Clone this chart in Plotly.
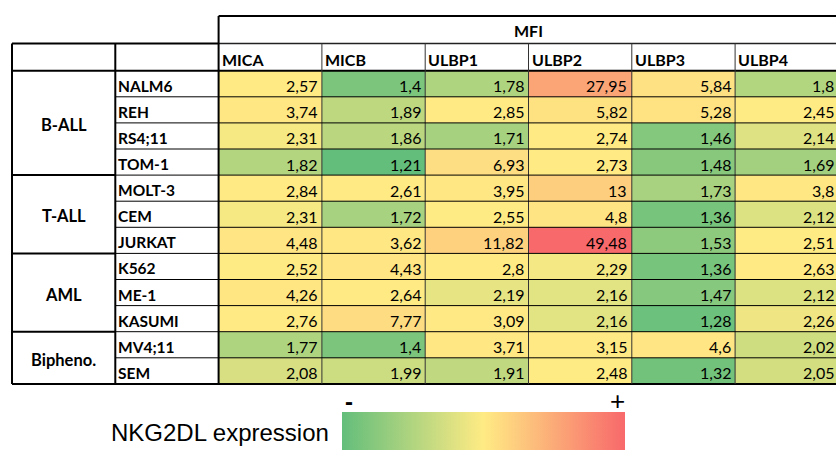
import numpy as np
import plotly.graph_objects as go

# ---------------- data ----------------
markers = ["MICA", "MICB", "ULBP1", "ULBP2", "ULBP3", "ULBP4"]
cell_lines = ["NALM6", "REH", "RS4;11", "TOM-1", "MOLT-3", "CEM", "JURKAT",
              "K562", "ME-1", "KASUMI", "MV4;11", "SEM"]
groups = ["B-ALL", "T-ALL", "AML", "Bipheno."]
group_sizes = [4, 3, 3, 2]

mica = [2.57, 3.74, 2.31, 1.82, 2.84, 2.31, 4.48, 2.52, 4.26, 2.76, 1.77, 2.08]
micb = [1.4, 1.89, 1.86, 1.21, 2.61, 1.72, 3.62, 4.43, 2.64, 7.77, 1.4, 1.99]
ulbp1 = [1.78, 2.85, 1.71, 6.93, 3.95, 2.55, 11.82, 2.8, 2.19, 3.09, 3.71, 1.91]
ulbp2 = [27.95, 5.82, 2.74, 2.73, 13, 4.8, 49.48, 2.29, 2.16, 2.16, 3.15, 2.48]
ulbp3 = [5.84, 5.28, 1.46, 1.48, 1.73, 1.36, 1.53, 1.36, 1.47, 1.28, 4.6, 1.32]
ulbp4 = [1.8, 2.45, 2.14, 1.69, 3.8, 2.12, 2.51, 2.63, 2.12, 2.26, 2.02, 2.05]

header_title = "MFI"
legend_title = "NKG2DL expression"

# ---------------- styling ----------------
W, H = 836, 452
GREEN, YELLOW, RED = "#63BE7B", "#FFEB84", "#F8696B"
FONT = "Lato"
COL_W, X0 = 103.3, 12.0      # px per column, left edge of table
ROW_H, Y0 = 26.1, 70.7       # px per row, top of first data row


def xd(px):
    return (px - X0) / COL_W - 0.5


def yd(px):
    return (px - Y0) / ROW_H - 0.5


cols = [mica, micb, ulbp1, ulbp2, ulbp3, ulbp4]
z = np.array(cols).T  # rows = cell lines, cols = markers
zmin, zmax = z.min(), z.max()
zmid = np.percentile(z, 50)
midpos = (zmid - zmin) / (zmax - zmin)
cscale = [[0, GREEN], [midpos, YELLOW], [1, RED]]

n_rows = len(cell_lines)
data_x = [j + 2 for j in range(len(markers))]
data_y = list(range(n_rows))

fig = go.Figure()
fig.add_trace(go.Heatmap(
    z=z, x=data_x, y=data_y, colorscale=cscale, zmin=zmin, zmax=zmax,
    showscale=False, hoverinfo="skip"))

# legend gradient bar
lx0, lx1 = xd(342), xd(625)
ly0, ly1 = yd(412), yd(450)
fig.add_trace(go.Scatter(
    x=[lx0, lx1, lx1, lx0, lx0], y=[ly0, ly0, ly1, ly1, ly0],
    mode="lines", line=dict(width=0), fill="toself",
    fillgradient=dict(type="horizontal",
                      colorscale=[[0, GREEN], [0.5, YELLOW], [1, RED]]),
    hoverinfo="skip", showlegend=False))

shapes = []


def line(x0, y0, x1, y1, w=1, c="black"):
    shapes.append(dict(type="line", xref="x", yref="y", x0=x0, y0=y0,
                       x1=x1, y1=y1, line=dict(color=c, width=w)))


top_mfi = yd(16)
top_hdr = yd(43.5)
right = 7.7
last = n_rows - 0.5

# MFI box
line(1.5, top_mfi, right, top_mfi, 2)
line(1.5, top_hdr, right, top_hdr, 1.5, "#222")
line(-0.5, top_hdr, 1.5, top_hdr, 2)
line(-0.5, -0.5, right, -0.5, 2)
line(-0.5, last, right, last, 2)
# verticals
line(-0.5, top_hdr, -0.5, last, 2)
line(0.5, top_hdr, 0.5, last, 2)
line(1.5, top_mfi, 1.5, last, 2)
for j in range(len(markers) - 1):
    line(j + 2.5, top_hdr, j + 2.5, last, 1, "#333")
# row separators
for i in range(n_rows - 1):
    line(0.5, i + 0.5, right, i + 0.5, 1, "black")
# group separators
cum = np.cumsum(group_sizes)
for c in cum[:-1]:
    line(-0.5, c - 0.5, 0.5, c - 0.5, 2)

ann = []
# values (right aligned, anchor kept inside the axis range)
INSET = 0.1
for j, col in enumerate(cols):
    for i, v in enumerate(col):
        ann.append(dict(x=j + 2.5 - INSET, y=i, xref="x", yref="y",
                        text=f"{v:g}".replace(".", ","), showarrow=False,
                        xanchor="right", xshift=INSET * COL_W - 2.5, yshift=-2,
                        font=dict(family=FONT, size=16, color="black")))
# headers
for j, m in enumerate(markers):
    ann.append(dict(x=j + 1.5, y=(top_hdr - 0.5) / 2, xref="x", yref="y",
                    text=f"<b>{m}</b>", showarrow=False, xanchor="left",
                    xshift=1, yshift=-2,
                    font=dict(family=FONT, size=16, color="black")))
ann.append(dict(x=4.5, y=(top_mfi + top_hdr) / 2, xref="x", yref="y",
                text=f"<b>{header_title}</b>", showarrow=False, yshift=-1,
                font=dict(family=FONT, size=16, color="black")))
# cell lines
for i, cl in enumerate(cell_lines):
    ann.append(dict(x=0.5, y=i, xref="x", yref="y", text=f"<b>{cl}</b>",
                    showarrow=False, xanchor="left", xshift=1, yshift=-2,
                    font=dict(family=FONT, size=15.5, color="black")))
# groups
start = 0
for g, s in zip(groups, group_sizes):
    ann.append(dict(x=0, y=start + (s - 1) / 2, xref="x", yref="y",
                    text=f"<b>{g}</b>", showarrow=False, yshift=-2,
                    font=dict(family=FONT, size=16.5, color="black")))
    start += s

# legend texts
ann.append(dict(x=xd(220), y=yd(432), xref="x", yref="y", text=legend_title,
                showarrow=False,
                font=dict(family="Liberation Sans, Arial", size=24, color="black")))
ann.append(dict(x=xd(348.5), y=yd(401), xref="x", yref="y", text="<b>-</b>",
                showarrow=False,
                font=dict(family="Liberation Sans, Arial", size=24, color="black")))
ann.append(dict(x=xd(617.5), y=yd(401), xref="x", yref="y", text="+",
                showarrow=False,
                font=dict(family="Liberation Sans, Arial", size=26, color="black")))

fig.update_layout(
    width=W, height=H, margin=dict(l=0, r=0, t=0, b=0),
    paper_bgcolor="white", plot_bgcolor="white",
    xaxis=dict(range=[xd(0), xd(W)], visible=False, fixedrange=True),
    yaxis=dict(range=[yd(H), yd(0)], visible=False, fixedrange=True),
    shapes=shapes, annotations=ann, showlegend=False)

fig.write_html(
    "out.html",
    config={"displayModeBar": False},
    post_script="document.body.style.margin='0';"
                "document.documentElement.style.overflow='hidden';")
